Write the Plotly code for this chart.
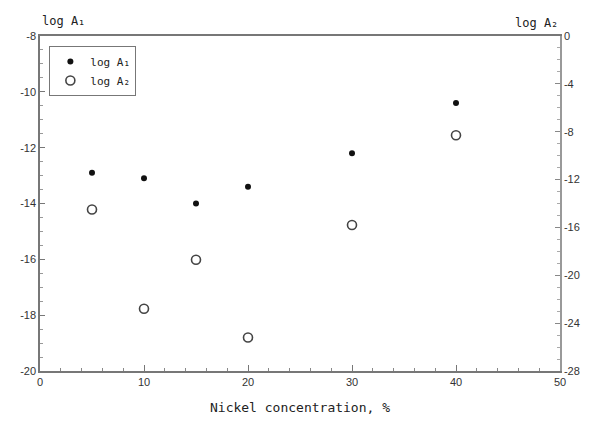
import plotly.graph_objects as go

nickel = [5, 10, 15, 20, 30, 40]
log_a1 = [-12.9, -13.1, -14.0, -13.4, -12.2, -10.4]
log_a2 = [-14.5, -22.8, -18.7, -25.2, -15.8, -8.3]

left_ticks = [-8, -10, -12, -14, -16, -18, -20]
right_ticks = [0, -4, -8, -12, -16, -20, -24, -28]
x_ticks = [0, 10, 20, 30, 40, 50]

mono = "DejaVu Sans Mono"
sans = "Liberation Sans"
ink = "#333333"

fig = go.Figure()
fig.add_trace(go.Scatter(
    x=nickel, y=log_a1, mode="markers", name="log A\u2081",
    marker=dict(symbol="circle", size=6, color="#111111"),
    yaxis="y"))
fig.add_trace(go.Scatter(
    x=nickel, y=log_a2, mode="markers", name="log A\u2082",
    marker=dict(symbol="circle-open", size=9, color="#444444", line=dict(width=1.6)),
    yaxis="y2"))

fig.update_layout(
    width=595, height=426,
    margin=dict(l=40, r=35, t=36, b=55),
    paper_bgcolor="white", plot_bgcolor="white",
    showlegend=True,
    legend=dict(x=0.018, y=0.97, xanchor="left", yanchor="top",
                bordercolor="#777777", borderwidth=1, bgcolor="white",
                font=dict(family=mono, size=11, color="#222222"),
                itemwidth=30, tracegroupgap=2),
    xaxis=dict(range=[0, 50], tickvals=x_ticks, ticktext=[str(v) for v in x_ticks],
               showgrid=False, zeroline=False, showline=True, linecolor="#777777",
               linewidth=1.5, mirror=True, ticks="inside", ticklen=6, tickcolor="#777777",
               minor=dict(dtick=2, ticks="inside", ticklen=3, tickcolor="#888888"),
               tickfont=dict(family=sans, size=11, color=ink),
               title=dict(text="Nickel concentration, %", standoff=16,
                          font=dict(family=mono, size=13, color="#222222"))),
    yaxis=dict(range=[-20, -8], tickvals=left_ticks, ticktext=[str(v) for v in left_ticks],
               showgrid=False, zeroline=False, showline=True, linecolor="#777777",
               linewidth=1.5, ticks="inside", ticklen=5, tickcolor="#777777",
               minor=dict(dtick=0.5, ticks="inside", ticklen=3, tickcolor="#999999"),
               tickfont=dict(family=sans, size=11, color=ink)),
    yaxis2=dict(range=[-28, 0], tickvals=right_ticks, ticktext=[str(v) for v in right_ticks],
                overlaying="y", side="right", anchor="x",
                showgrid=False, zeroline=False, showline=True, linecolor="#999999",
                linewidth=1.5, ticks="inside", ticklen=5, tickcolor="#888888",
                minor=dict(dtick=1, ticks="inside", ticklen=3, tickcolor="#aaaaaa"),
                tickfont=dict(family=sans, size=11, color=ink)),
    annotations=[
        dict(text="log A\u2081", xref="paper", yref="paper", x=0.0, y=1.0,
             xanchor="left", yanchor="bottom", yshift=6, showarrow=False,
             font=dict(family=mono, size=12, color="#222222")),
        dict(text="log A\u2082", xref="paper", yref="paper", x=1.0, y=1.0,
             xanchor="right", yanchor="bottom", yshift=4, showarrow=False,
             font=dict(family=mono, size=12, color="#222222")),
    ],
)

fig.write_html("out.html")
